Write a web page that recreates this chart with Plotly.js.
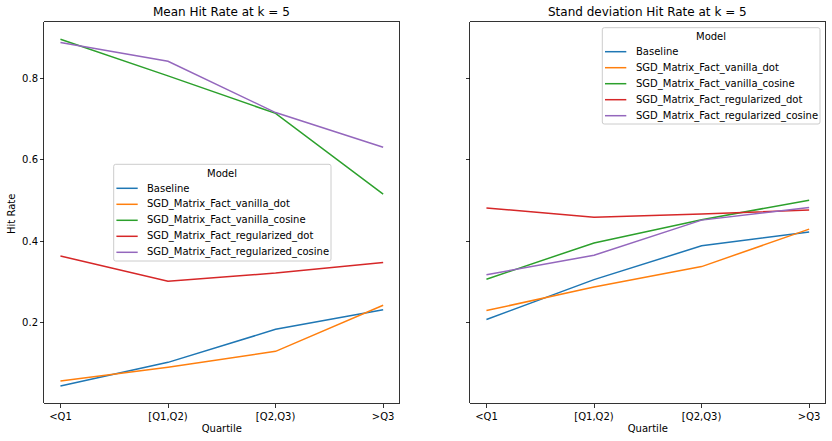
<!DOCTYPE html>
<html>
<head>
<meta charset="utf-8">
<script src="https://cdn.plot.ly/plotly-3.0.1.min.js"></script>
<style>html,body{margin:0;padding:0;background:#fff;}#chart{width:832px;height:441px;}</style>
</head>
<body>
<div id="chart"></div>
<script>
const quartiles = ["<Q1", "[Q1,Q2)", "[Q2,Q3)", ">Q3"];
const models = ["Baseline", "SGD_Matrix_Fact_vanilla_dot", "SGD_Matrix_Fact_vanilla_cosine", "SGD_Matrix_Fact_regularized_dot", "SGD_Matrix_Fact_regularized_cosine"];
const colors = ["#1f77b4", "#ff7f0e", "#2ca02c", "#d62728", "#9467bd"];

const meanBaseline = [0.045, 0.103, 0.184, 0.232];
const meanVanillaDot = [0.057, 0.091, 0.130, 0.243];
const meanVanillaCosine = [0.896, 0.806, 0.714, 0.516];
const meanRegularizedDot = [0.364, 0.302, 0.322, 0.348];
const meanRegularizedCosine = [0.888, 0.842, 0.716, 0.631];

const stdBaseline = [0.208, 0.306, 0.389, 0.423];
const stdVanillaDot = [0.230, 0.288, 0.338, 0.430];
const stdVanillaCosine = [0.307, 0.396, 0.453, 0.501];
const stdRegularizedDot = [0.482, 0.459, 0.467, 0.477];
const stdRegularizedCosine = [0.318, 0.366, 0.452, 0.483];

const meanSeries = [meanBaseline, meanVanillaDot, meanVanillaCosine, meanRegularizedDot, meanRegularizedCosine];
const stdSeries = [stdBaseline, stdVanillaDot, stdVanillaCosine, stdRegularizedDot, stdRegularizedCosine];

const FONT = "DejaVu Sans, Liberation Sans, sans-serif";
const traces = [];
models.forEach((m, i) => {
  traces.push({x: quartiles, y: meanSeries[i], name: m, type: "scatter", mode: "lines",
    line: {color: colors[i], width: 1.5}, xaxis: "x", yaxis: "y", showlegend: false});
});
models.forEach((m, i) => {
  traces.push({x: quartiles, y: stdSeries[i], name: m, type: "scatter", mode: "lines",
    line: {color: colors[i], width: 1.5}, xaxis: "x2", yaxis: "y2", showlegend: false});
});

const W = 832, H = 441;
const px = v => v / W;
const py = v => 1 - v / H;
const yDom = [py(403.3), py(22.3)];
const axCommon = {
  showline: true, mirror: true, linecolor: "#000", linewidth: 0.8,
  ticks: "outside", ticklen: 3.5, tickwidth: 0.8, tickcolor: "#000",
  showgrid: false, zeroline: false, automargin: false,
  tickfont: {family: FONT, size: 10, color: "#000"}
};

// Manual legend boxes (matplotlib-style)
const shapes = [];
const annotations = [];
function addLegend(left, top, right, bottom) {
  const r = 2;
  shapes.push({type: "path", xref: "paper", yref: "paper",
    path: `M ${px(left + r)} ${py(top)} L ${px(right - r)} ${py(top)} Q ${px(right)} ${py(top)} ${px(right)} ${py(top + r)} ` +
          `L ${px(right)} ${py(bottom - r)} Q ${px(right)} ${py(bottom)} ${px(right - r)} ${py(bottom)} ` +
          `L ${px(left + r)} ${py(bottom)} Q ${px(left)} ${py(bottom)} ${px(left)} ${py(bottom - r)} ` +
          `L ${px(left)} ${py(top + r)} Q ${px(left)} ${py(top)} ${px(left + r)} ${py(top)} Z`,
    fillcolor: "rgba(255,255,255,0.8)", line: {color: "#cccccc", width: 1}, layer: "above"});
  annotations.push({text: "Model", xref: "paper", yref: "paper", x: px((left + right) / 2), y: py(top + 8.7),
    showarrow: false, xanchor: "center", yanchor: "middle", font: {family: FONT, size: 10, color: "#000"}});
  models.forEach((m, i) => {
    const yy = top + 24 + 16 * i;
    shapes.push({type: "line", xref: "paper", yref: "paper", x0: px(left + 2.7), x1: px(left + 24), y0: py(yy), y1: py(yy),
      line: {color: colors[i], width: 1.5}, layer: "above"});
    annotations.push({text: m, xref: "paper", yref: "paper", x: px(left + 31.5), y: py(yy),
      showarrow: false, xanchor: "left", yanchor: "middle", font: {family: FONT, size: 10, color: "#000"}});
  });
}
addLegend(113.7, 164.3, 331, 261);
addLegend(602.3, 27.7, 820, 124);

annotations.push(
  {text: "Mean Hit Rate at k = 5", xref: "paper", yref: "paper", x: px((44.3 + 399.3) / 2), y: py(12.5),
    showarrow: false, xanchor: "center", yanchor: "middle", font: {family: FONT, size: 12, color: "#000"}},
  {text: "Stand deviation Hit Rate at k = 5", xref: "paper", yref: "paper", x: px((470.3 + 825.3) / 2), y: py(12.5),
    showarrow: false, xanchor: "center", yanchor: "middle", font: {family: FONT, size: 12, color: "#000"}},
  {text: "Hit Rate", xref: "paper", yref: "paper", x: px(11), y: py(214), textangle: -90,
    showarrow: false, xanchor: "center", yanchor: "middle", font: {family: FONT, size: 10, color: "#000"}}
);

const layout = {
  width: W, height: H,
  margin: {l: 0, r: 0, t: 0, b: 0},
  paper_bgcolor: "#fff", plot_bgcolor: "#fff",
  font: {family: FONT, size: 10, color: "#000"},
  showlegend: false,
  xaxis: Object.assign({}, axCommon, {domain: [px(44.3), px(399.3)], type: "category", range: [-0.15, 3.15],
    title: {text: "Quartile", font: {family: FONT, size: 10}, standoff: 4}}),
  yaxis: Object.assign({}, axCommon, {domain: yDom, range: [0.0025, 0.9375], tickvals: [0.2, 0.4, 0.6, 0.8], ticktext: ["0.2", "0.4", "0.6", "0.8"]}),
  xaxis2: Object.assign({}, axCommon, {domain: [px(470.3), px(825.3)], type: "category", range: [-0.15, 3.15], anchor: "y2",
    title: {text: "Quartile", font: {family: FONT, size: 10}, standoff: 4}}),
  yaxis2: Object.assign({}, axCommon, {domain: yDom, range: [0.0025, 0.9375], tickvals: [0.2, 0.4, 0.6, 0.8], showticklabels: false, anchor: "x2"}),
  shapes: shapes,
  annotations: annotations
};

Plotly.newPlot("chart", traces, layout, {displayModeBar: false, staticPlot: true});
</script>
</body>
</html>
